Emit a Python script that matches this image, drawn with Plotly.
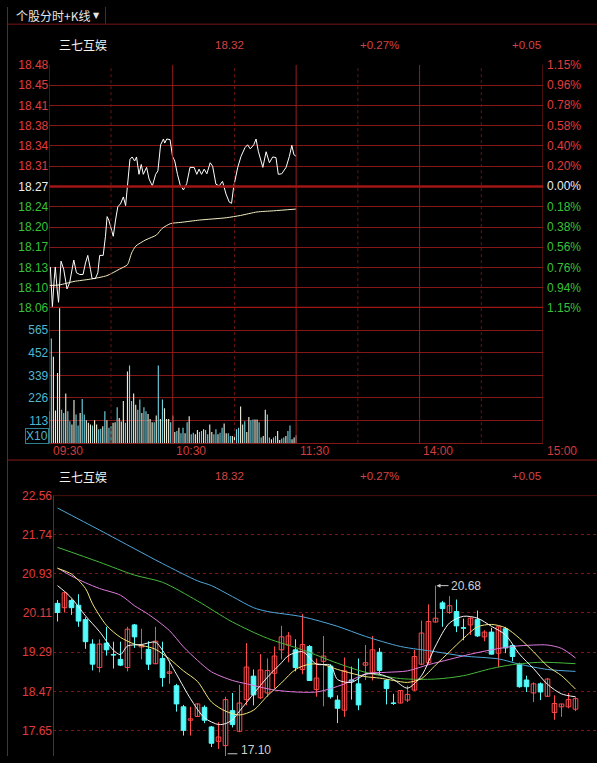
import plotly.graph_objects as go

W, H = 597, 763

# ---------------- intraday (分时) data ----------------
stock_name = "三七互娱"
prev_close = 18.27
last_price = 18.32
price_step = 0.035
price_tick_labels = ["18.48", "18.45", "18.41", "18.38", "18.34", "18.31", "18.27",
                     "18.24", "18.20", "18.17", "18.13", "18.10", "18.06"]
pct_tick_labels = ["1.15%", "0.96%", "0.78%", "0.58%", "0.40%", "0.20%", "0.00%",
                   "0.18%", "0.38%", "0.56%", "0.76%", "0.94%", "1.15%"]
time_labels = ["09:30", "10:30", "11:30", "14:00", "15:00"]
time_minutes = [0, 60, 120, 180, 240]

line_min = [0.5, 1.5, 2.4, 2.9, 3.8, 4.5, 5.7, 7.0, 8.6, 9.9,
            11.9, 13.2, 14.8, 16.4, 17.6, 18.7, 20.0, 20.8, 22.4, 23.6,
            24.5, 26.2, 27.3, 28.1, 28.9, 30.1, 31.1, 32.2, 33.3, 34.6,
            36.0, 37.1, 38.2, 39.2, 40.3, 41.5, 42.4, 43.6, 44.7, 45.7,
            47.3, 48.5, 50.1, 51.7, 52.8, 54.1, 55.5, 56.1, 57.1, 58.7,
            59.9, 61.0, 62.3, 63.6, 65.2, 66.8, 68.4, 70.4, 71.7, 72.8,
            74.0, 75.3, 76.6, 78.2, 79.4, 81.0, 82.6, 84.2, 85.9, 87.5,
            88.6, 89.6, 91.6, 93.2, 95.1, 96.4, 97.7, 99.4, 100.5, 101.6,
            103.8, 105.4, 107.0, 108.6, 110.2, 111.3, 113.0, 115.1, 116.7, 117.9,
            118.9, 120.0]
line_px = [18.131, 18.062, 18.110, 18.131, 18.093, 18.070, 18.141, 18.127, 18.093, 18.104,
           18.143, 18.121, 18.118, 18.118, 18.138, 18.151, 18.127, 18.111, 18.111, 18.121,
           18.151, 18.151, 18.184, 18.218, 18.212, 18.195, 18.184, 18.212, 18.235, 18.240,
           18.252, 18.237, 18.274, 18.317, 18.321, 18.314, 18.321, 18.291, 18.308, 18.291,
           18.303, 18.283, 18.271, 18.291, 18.297, 18.342, 18.352, 18.345, 18.352, 18.351,
           18.322, 18.314, 18.291, 18.273, 18.264, 18.275, 18.303, 18.303, 18.291, 18.300,
           18.291, 18.300, 18.292, 18.311, 18.305, 18.274, 18.271, 18.279, 18.257, 18.243,
           18.241, 18.269, 18.303, 18.322, 18.337, 18.342, 18.335, 18.342, 18.352, 18.331,
           18.303, 18.330, 18.311, 18.321, 18.320, 18.291, 18.292, 18.303, 18.322, 18.341,
           18.325, 18.322]

avg_min = [0, 5, 12, 20, 28, 34, 38, 40, 42, 47, 52, 55, 59, 64, 73, 86, 93, 101, 109, 120]
avg_px = [18.099, 18.100, 18.106, 18.110, 18.116, 18.127, 18.135, 18.155, 18.167, 18.178,
          18.186, 18.198, 18.206, 18.208, 18.212, 18.216, 18.220, 18.226, 18.228, 18.231]

vol = [159, 524, 432, 164, 351, 675, 167, 151, 249, 159,
       110, 93, 216, 143, 88, 151, 221, 143, 115, 102,
       93, 88, 115, 93, 69, 72, 85, 159, 115, 77,
       85, 102, 105, 180, 126, 108, 211, 102, 359, 388,
       211, 249, 192, 167, 219, 151, 180, 159, 146, 121,
       105, 105, 138, 388, 121, 219, 175, 121, 121, 105,
       138, 56, 61, 77, 49, 77, 49, 105, 134, 44,
       52, 44, 66, 56, 61, 69, 66, 44, 93, 56,
       44, 69, 44, 52, 77, 98, 49, 49, 36, 36,
       33, 69, 77, 183, 93, 110, 56, 131, 115, 118,
       118, 118, 105, 28, 36, 167, 143, 28, 20, 28,
       36, 61, 16, 23, 28, 36, 61, 88, 20, 28,
       39]
vol_dir = ("uduuuuddud" "duuddudduu" "uduuddudud" "duuduuudud" "duuddudduu"
           "udududuuud" "uududdudud" "duuddudduu" "ddudduuddu" "udduuduudd"
           "uudduuddud" "duuddudduu" "d")
vol_ticks = [113, 226, 339, 452, 565]
vol_unit = "X10"

# ---------------- daily K-line data ----------------
opens = [20.31, 20.22, 20.37, 20.27, 19.97, 19.46, 18.97, 19.48, 19.24, 19.14,
         18.97, 19.86, 19.40, 19.35, 19.05, 19.16, 18.85, 18.59, 18.15, 17.87,
         17.95, 18.14, 17.73, 17.43, 17.34, 18.07, 17.64, 18.30, 18.79, 18.34,
         18.44, 18.85, 19.34, 19.44, 19.34, 18.93, 19.41, 18.51, 19.10, 19.00,
         18.29, 18.08, 18.71, 18.63, 19.02, 18.87, 19.29, 18.70, 18.23, 18.23,
         18.29, 18.50, 19.04, 19.07, 19.92, 20.32, 20.12, 20.14, 19.80, 19.86,
         19.97, 19.61, 19.71, 19.27, 19.78, 19.43, 19.04, 18.71, 18.44, 18.63,
         18.37, 18.03, 18.15, 18.15, 18.10]
highs = [20.38, 20.56, 20.40, 20.50, 20.02, 19.56, 19.56, 19.82, 19.51, 19.51,
         19.82, 19.88, 19.78, 19.52, 19.82, 19.51, 19.12, 18.63, 18.19, 18.15,
         18.22, 18.18, 17.75, 17.83, 18.36, 18.44, 18.61, 19.48, 18.93, 19.25,
         19.16, 19.41, 19.84, 19.71, 19.56, 20.09, 19.44, 19.16, 19.63, 19.04,
         18.39, 19.18, 18.99, 19.16, 19.44, 19.63, 19.38, 18.73, 18.42, 18.50,
         18.59, 19.34, 19.95, 20.29, 20.68, 20.36, 20.46, 20.39, 19.99, 20.02,
         20.16, 19.75, 19.80, 19.83, 19.82, 19.46, 19.07, 18.80, 18.66, 18.66,
         18.75, 18.39, 18.21, 18.44, 18.35]
lows = [19.93, 20.12, 20.07, 19.82, 19.36, 18.91, 18.87, 19.22, 18.95, 19.00,
        18.89, 19.38, 19.14, 18.92, 19.04, 18.57, 18.63, 18.05, 17.55, 17.55,
        17.94, 17.81, 17.31, 17.27, 17.10, 17.72, 17.62, 18.18, 18.18, 18.31,
        18.36, 18.53, 19.14, 19.08, 18.89, 18.83, 18.69, 18.36, 18.16, 18.32,
        17.81, 17.94, 18.30, 18.08, 18.71, 18.70, 18.83, 18.20, 18.19, 18.22,
        18.25, 18.48, 19.02, 19.04, 19.91, 19.82, 20.09, 19.71, 19.54, 19.65,
        19.61, 19.52, 19.24, 18.98, 19.27, 19.10, 18.55, 18.46, 18.25, 18.29,
        18.36, 17.88, 17.94, 18.12, 18.06]
closes = [20.12, 20.53, 20.22, 19.94, 19.51, 19.04, 19.46, 19.34, 19.23, 19.02,
          19.77, 19.61, 19.43, 19.04, 19.52, 18.76, 18.88, 18.21, 17.66, 17.90,
          18.21, 17.87, 17.39, 17.52, 18.30, 17.78, 18.23, 18.98, 18.40, 18.92,
          18.91, 19.21, 19.61, 19.63, 18.97, 19.45, 18.70, 18.75, 19.21, 18.36,
          18.12, 18.90, 18.69, 18.19, 19.07, 19.34, 18.91, 18.53, 18.22, 18.49,
          18.41, 19.20, 19.69, 19.93, 20.00, 20.20, 20.26, 19.84, 19.79, 20.00,
          19.63, 19.71, 19.25, 19.82, 19.38, 19.20, 18.57, 18.57, 18.63, 18.46,
          18.73, 18.22, 18.21, 18.30, 18.32]

ma5_idx = [0, 1, 2, 4, 6, 8, 9, 10, 12, 14, 15, 17, 19, 21, 23, 24, 25, 26, 28, 30,
           32, 33, 35, 37, 39, 40, 42, 44, 46, 48, 50, 52, 54, 56, 58, 60, 62, 64,
           66, 68, 70, 72, 74]
ma5_val = [20.68, 20.56, 20.42, 20.05, 19.72, 19.33, 19.24, 19.42, 19.45, 19.50, 19.33,
           18.83, 18.32, 17.92, 17.78, 17.80, 17.88, 18.06, 18.42, 18.77, 19.07, 19.22,
           19.30, 19.04, 19.02, 18.72, 18.66, 18.83, 18.83, 18.72, 18.54, 18.80, 19.42,
           19.90, 20.04, 20.00, 19.83, 19.65, 19.25, 18.95, 18.62, 18.42, 18.36]
ma10_idx = [0, 2, 4, 5, 7, 9, 11, 13, 14, 16, 18, 20, 22, 24, 26, 28, 30, 32, 34, 36,
            38, 40, 42, 44, 46, 48, 50, 52, 54, 56, 58, 60, 62, 64, 66, 68, 70, 72, 74]
ma10_val = [21.04, 20.92, 20.62, 20.30, 19.85, 19.60, 19.46, 19.40, 19.35, 19.15, 18.90,
            18.68, 18.25, 18.06, 17.98, 18.08, 18.38, 18.65, 18.93, 19.04, 19.03, 18.93,
            18.85, 18.78, 18.75, 18.70, 18.66, 18.74, 19.02, 19.30, 19.58, 19.82, 19.87,
            19.80, 19.58, 19.30, 19.00, 18.80, 18.52]
ma20_idx = [0, 2, 4, 6, 9, 11, 13, 16, 18, 20, 22, 25, 27, 29, 31, 34, 37, 39, 41, 44,
            47, 50, 53, 56, 59, 62, 65, 68, 70, 72, 74]
ma20_val = [21.05, 20.88, 20.74, 20.62, 20.48, 20.26, 20.08, 19.74, 19.40, 19.12, 18.88,
            18.70, 18.63, 18.56, 18.50, 18.46, 18.46, 18.53, 18.63, 18.84, 18.87, 18.90,
            19.03, 19.14, 19.25, 19.34, 19.41, 19.44, 19.44, 19.37, 19.17]
ma60_idx = [0, 6, 11, 15, 20, 25, 30, 35, 40, 44, 49, 54, 58, 62, 65, 69, 74]
ma60_val = [21.48, 21.17, 20.90, 20.75, 20.36, 19.92, 19.58, 19.34, 19.06, 18.87, 18.74,
            18.73, 18.80, 18.95, 19.03, 19.08, 19.05]
ma120_idx = [0, 6, 11, 15, 20, 22, 25, 28, 30, 35, 40, 44, 49, 54, 58, 63, 66, 70, 74]
ma120_val = [22.30, 21.84, 21.45, 21.14, 20.78, 20.68, 20.45, 20.22, 20.14, 20.03, 19.83,
             19.62, 19.41, 19.30, 19.21, 19.15, 19.04, 18.93, 18.89]
k_ticks = [22.56, 21.74, 20.93, 20.11, 19.29, 18.47, 17.65]

# ---------------- styling ----------------
GRID = "#841818"
GRID_DOT = "#7a1616"
RED_TXT = "#e03c3c"
GREEN_TXT = "#38c038"
WHITE_TXT = "#eeeeee"
CYAN_TXT = "#4fb6cf"
UP = "#ff4a4a"
DOWN = "#54fcfc"
NUM_FONT = "Liberation Sans, Arial, sans-serif"
CJK_FONT = "Noto Sans CJK SC, sans-serif"


def fx(p):
    return p / W


def fy(p):
    return 1 - p / H


fig = go.Figure()

# ---- intraday traces ----
vol_minutes = list(range(len(vol)))
vol_colors = ["#ecebd6" if d == "u" else "#6fd0e0" for d in vol_dir[:len(vol)]]
fig.add_trace(go.Bar(x=vol_minutes, y=vol, marker=dict(color=vol_colors, line=dict(width=0)),
                     width=0.55, xaxis="x2", yaxis="y2", hoverinfo="skip"))
fig.add_trace(go.Scatter(x=avg_min, y=avg_px, mode="lines",
                         line=dict(color="#f2edc2", width=1, shape="spline", smoothing=0.6),
                         xaxis="x", yaxis="y", hoverinfo="skip"))
fig.add_trace(go.Scatter(x=line_min, y=line_px, mode="lines",
                         line=dict(color="#ffffff", width=1),
                         xaxis="x", yaxis="y", hoverinfo="skip"))

# ---- K-line traces ----
idx = list(range(len(opens)))
up_i = [i for i in idx if closes[i] > opens[i]]
dn_i = [i for i in idx if closes[i] <= opens[i]]


def wick_xy(ids):
    xs, ys = [], []
    for i in ids:
        xs += [i, i, None]
        ys += [lows[i], highs[i], None]
    return xs, ys


for ids, col in ((up_i, UP), (dn_i, DOWN)):
    wx, wy = wick_xy(ids)
    fig.add_trace(go.Scatter(x=wx, y=wy, mode="lines", line=dict(color=col, width=1),
                             xaxis="x3", yaxis="y3", hoverinfo="skip"))

fig.add_trace(go.Bar(x=up_i, base=[opens[i] for i in up_i],
                     y=[max(closes[i] - opens[i], 0.012) for i in up_i],
                     width=0.66, marker=dict(color="#000000", line=dict(color=UP, width=1)),
                     xaxis="x3", yaxis="y3", hoverinfo="skip"))
fig.add_trace(go.Bar(x=dn_i, base=[closes[i] for i in dn_i],
                     y=[max(opens[i] - closes[i], 0.012) for i in dn_i],
                     width=0.66, marker=dict(color=DOWN, line=dict(color=DOWN, width=1)),
                     xaxis="x3", yaxis="y3", hoverinfo="skip"))

for xs, ys, col in ((ma120_idx, ma120_val, "#4fa8dc"),
                    (ma60_idx, ma60_val, "#46b83c"),
                    (ma20_idx, ma20_val, "#e07ce0"),
                    (ma10_idx, ma10_val, "#efe77a"),
                    (ma5_idx, ma5_val, "#f4f4f4")):
    fig.add_trace(go.Scatter(x=xs, y=ys, mode="lines",
                             line=dict(color=col, width=1, shape="spline", smoothing=0.8),
                             xaxis="x3", yaxis="y3", hoverinfo="skip"))

# lowest-price marker (at the bottom edge of the picture)
lo_i = min(idx, key=lambda i: lows[i])
fig.add_trace(go.Scatter(x=[lo_i + 0.3, lo_i + 1.7], y=[lows[lo_i] + 0.07, lows[lo_i] + 0.07],
                         mode="lines", line=dict(color="#c8c8c8", width=1), cliponaxis=False,
                         xaxis="x3", yaxis="y3", hoverinfo="skip"))

# ---------------- axes ----------------
n_side = (len(price_tick_labels) - 1) // 2
price_tickvals = [prev_close + (n_side - k) * price_step for k in range(len(price_tick_labels))]
price_colors = [RED_TXT] * n_side + [WHITE_TXT] + [GREEN_TXT] * n_side
price_ticktext = [f"<span style='color:{c}'>{t}</span>" for t, c in zip(price_tick_labels, price_colors)]

top_x = [fx(49.3), fx(543)]
common_hidden_x = dict(showgrid=False, zeroline=False, showticklabels=False, showline=False,
                       ticks="", fixedrange=True)

fig.update_layout(
    width=W, height=H, margin=dict(l=0, r=0, t=0, b=0),
    paper_bgcolor="#000000", plot_bgcolor="#000000",
    showlegend=False, barmode="overlay", hovermode=False,
    font=dict(family=NUM_FONT, size=12, color=RED_TXT),
    xaxis=dict(domain=top_x, range=[0, 240], anchor="y", **common_hidden_x),
    yaxis=dict(domain=[fy(306.7), fy(59)], range=[prev_close - n_side * price_step,
                                                  prev_close + n_side * price_step],
               tickvals=price_tickvals, ticktext=price_ticktext, ticks="",
               tickfont=dict(family=NUM_FONT, size=12), showgrid=True, gridcolor=GRID,
               gridwidth=1, zeroline=False, showline=False, anchor="x", fixedrange=True),
    xaxis2=dict(domain=top_x, range=[0, 240], anchor="y2", **common_hidden_x),
    yaxis2=dict(domain=[fy(444.3), fy(306.7)], range=[0, 676], tickvals=vol_ticks,
                ticktext=[str(v) for v in vol_ticks], ticks="",
                tickfont=dict(family=NUM_FONT, size=12, color=CYAN_TXT), showgrid=True,
                gridcolor=GRID, zeroline=True, zerolinecolor=GRID, zerolinewidth=1,
                showline=False, anchor="x2", fixedrange=True),
    xaxis3=dict(domain=[fx(53), 1], range=[(53 - 57.5) / 7, (597 - 57.5) / 7], anchor="y3",
                **common_hidden_x),
    yaxis3=dict(domain=[0, fy(497.7)], range=[22.56 - 265.3 / 48.8, 22.56],
                tickvals=k_ticks, ticktext=[f"{v:.2f}" for v in k_ticks], ticks="",
                tickfont=dict(family=NUM_FONT, size=12, color=RED_TXT), showgrid=True,
                gridcolor=GRID_DOT, griddash="dot", gridwidth=1, zeroline=False,
                showline=False, anchor="x3", fixedrange=True),
)

# ---------------- shapes ----------------
shapes = []
shapes.append(dict(type="line", xref="paper", yref="paper", x0=fx(7.5), x1=fx(7.5), y0=0, y1=1,
                   line=dict(color="#3a3a3a", width=1)))
shapes.append(dict(type="line", xref="paper", yref="paper", x0=fx(105.5), x1=fx(105.5),
                   y0=fy(17), y1=1, line=dict(color="#7a1616", width=1)))
shapes.append(dict(type="line", xref="paper", yref="paper", x0=fx(7.5), x1=1, y0=fy(17.5),
                   y1=fy(17.5), line=dict(color="#7a1616", width=1)))
shapes.append(dict(type="line", xref="paper", yref="paper", x0=fx(7.5), x1=1, y0=fy(461.5),
                   y1=fy(461.5), line=dict(color="#8a1a1a", width=1)))
for m in range(0, 241, 30):
    solid = m % 60 == 0 or m in (0, 240)
    shapes.append(dict(type="line", xref="x", yref="paper", x0=m, x1=m,
                       y0=fy(444.3), y1=fy(59),
                       line=dict(color="#961c1c" if solid else "#6a1414", width=1,
                                 dash="solid" if solid else "dot")))
for lvl in (prev_close, prev_close - n_side * price_step):
    shapes.append(dict(type="line", xref="x", yref="y", x0=0, x1=240, y0=lvl, y1=lvl,
                       line=dict(color="#a01616", width=2.5)))
shapes.append(dict(type="line", xref="paper", yref="y3", x0=fx(53), x1=1, y0=22.56, y1=22.56,
                   line=dict(color="#8a1a1a", width=1)))
shapes.append(dict(type="line", xref="paper", yref="paper", x0=fx(53.5), x1=fx(53.5), y0=0,
                   y1=fy(497.7), line=dict(color="#8a1a1a", width=1)))
fig.update_layout(shapes=shapes)

# ---------------- annotations ----------------
ann = []
ann.append(dict(text="个股分时+K线", x=fx(14), y=fy(8.5), xref="paper", yref="paper",
                xanchor="left", yanchor="middle", showarrow=False,
                font=dict(family=CJK_FONT, size=12, color="#e6e6e6")))
ann.append(dict(text="▼", x=fx(91), y=fy(8.5), xref="paper", yref="paper",
                xanchor="left", yanchor="middle", showarrow=False,
                font=dict(family="DejaVu Sans", size=8, color="#e6e6e6")))

change = last_price - prev_close
header_vals = [f"{last_price:.2f}", f"{change / prev_close * 100:+.2f}%", f"{change:+.2f}"]
for hy in (38.5, 478):
    ann.append(dict(text=stock_name, x=fx(57), y=fy(hy), xref="paper", yref="paper",
                    xanchor="left", yanchor="middle", showarrow=False,
                    font=dict(family=CJK_FONT, size=12, color="#f2f2f2")))
    for hx, t in zip((213, 358, 510), header_vals):
        ann.append(dict(text=t, x=fx(hx), y=fy(hy), xref="paper", yref="paper",
                        xanchor="left", yanchor="middle", showarrow=False,
                        font=dict(family=NUM_FONT, size=11.5, color="#d24444")))

for t, v, c in zip(pct_tick_labels, price_tickvals, price_colors):
    ann.append(dict(text=t, x=fx(545), y=v, xref="paper", yref="y", xanchor="left",
                    yanchor="middle", showarrow=False,
                    font=dict(family=NUM_FONT, size=12, color=c)))

for t, m in zip(time_labels, time_minutes):
    ann.append(dict(text=t, x=m, y=fy(452.7), xref="x", yref="paper", xanchor="left",
                    yanchor="middle", xshift=1.5, showarrow=False,
                    font=dict(family=NUM_FONT, size=12, color="#d23c3c")))

ann.append(dict(text=vol_unit, x=fx(36.5), y=fy(437), xref="paper", yref="paper",
                xanchor="center", yanchor="middle", showarrow=False,
                bordercolor="#2f7f90", borderwidth=1, borderpad=0,
                font=dict(family=NUM_FONT, size=12, color=CYAN_TXT)))

hi_i = max(idx, key=lambda i: highs[i])
ann.append(dict(text=f"{highs[hi_i]:.2f}", x=hi_i, y=highs[hi_i], xref="x3", yref="y3",
                showarrow=True, ax=13, ay=0, xanchor="left", yanchor="middle",
                arrowhead=2, arrowsize=0.8, arrowwidth=1, arrowcolor="#c8c8c8", standoff=1,
                font=dict(family=NUM_FONT, size=12, color="#d0d0d0")))

# lowest-price label: the low lies just below the visible edge, so the label is kept
# inside the picture at the bottom edge next to that candle
ann.append(dict(text=f"{lows[lo_i]:.2f}", x=lo_i + 1.9, y=fy(756.5), xref="x3", yref="paper",
                xanchor="left", yanchor="middle", showarrow=False,
                font=dict(family=NUM_FONT, size=12, color="#d0d0d0")))

fig.update_layout(annotations=ann)

fig.write_html("out.html", config={"displayModeBar": False, "staticPlot": True},
               post_script="document.body.style.margin='0px';document.body.style.overflow='hidden';")
